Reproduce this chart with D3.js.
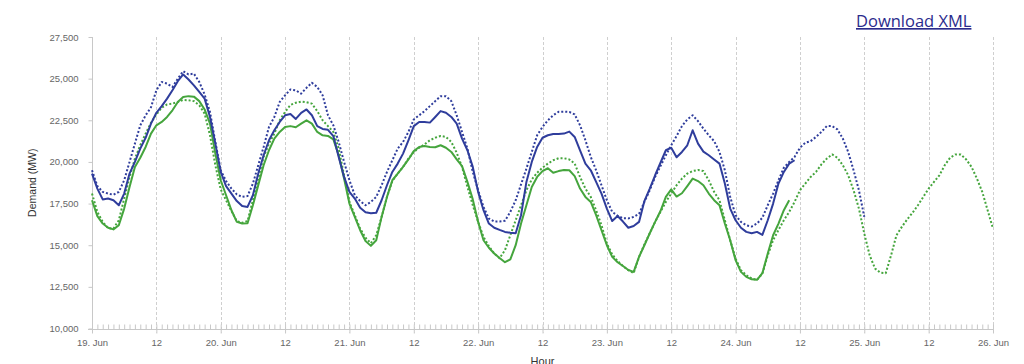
<!DOCTYPE html>
<html><head><meta charset="utf-8">
<script src="https://cdn.jsdelivr.net/npm/d3@7"></script>
<style>
html,body{margin:0;padding:0;background:#fff;overflow:hidden;}
svg{display:block;}
</style></head>
<body>
<svg id="chart" width="1024" height="364"></svg>
<script>
// ---- DATA ----
const startDay = Date.UTC(2019, 5, 19);   // 19 Jun, 00:00; one value per hour
const endDay = Date.UTC(2019, 5, 26);
const yTicks = [10000, 12500, 15000, 17500, 20000, 22500, 25000, 27500];
const seriesNames = ["Actual demand", "Forecast demand", "Actual demand (excl.)", "Forecast demand (excl.)"];

const blueSolid = [19300,18400,17750,17800,17700,17400,18100,19300,20000,20800,21450,22300,22950,23350,23800,24300,24850,25250,24950,24600,24200,23800,22700,21100,
19400,18550,18100,17650,17350,17300,18000,19300,20400,21300,21900,22400,22800,22880,22580,22950,23150,22800,22150,21980,21930,21550,20300,19100,
18200,17800,17250,16980,16920,16950,17700,18600,19400,19900,20500,21300,22150,22400,22400,22360,22700,23050,22950,22700,22300,21400,20700,19700,
18200,17100,16300,16050,15920,15800,15750,15720,16800,18800,20000,20900,21450,21600,21680,21680,21700,21820,21500,20700,19900,19500,18800,18100,
17200,16450,16750,16420,16050,16150,16400,17650,18400,19200,19950,20700,20850,20280,20600,21000,21900,21100,20620,20400,20150,19900,18700,17200,
16500,16050,15800,15720,15800,15620,16500,17500,18700,19400,19900,20100];

const blueDotted = [19500,18550,18200,18100,18030,18200,18900,20000,21100,22200,22800,23280,24300,24800,24700,24500,25000,25450,25250,25300,24800,24050,23000,21200,
19500,18850,18400,18050,17900,17950,18700,19800,20900,22100,22700,23600,24000,24350,24300,24100,24450,24750,24500,24000,22800,22200,21200,20000,
18900,18000,17650,17400,17600,17900,18600,19400,20100,20800,21200,21800,22550,22800,23050,23350,23650,23950,23950,23650,22800,21800,20800,19400,
18300,17300,16600,16420,16430,16470,17000,17700,18650,19600,20600,21600,22100,22500,22800,23010,23020,23000,22850,22200,21300,20300,19500,18600,
17700,17000,16780,16620,16610,16700,16880,17600,18300,19100,19750,20400,21000,21550,22150,22550,22800,22450,22000,21600,21250,20600,19500,17900,
16800,16400,16200,16120,16300,16650,17400,18100,18900,19650,20000,20300,20850,21150,21250,21500,21800,22150,22150,21950,21400,20600,19500,18300,
16700];

const greenSolid = [17700,16750,16300,16050,15950,16200,17200,18500,19700,20250,20900,21700,22200,22400,22700,23100,23600,23900,23950,23920,23650,23150,22300,20500,
18900,18000,17100,16400,16300,16320,17400,18600,19800,20700,21400,21800,22100,22150,22080,22300,22500,22300,21800,21600,21560,21350,20400,19000,
17500,16700,15900,15250,14960,15300,16700,17900,18900,19300,19700,20150,20650,20900,20950,20900,20880,21000,20850,20600,20150,19750,18800,17750,
16400,15300,14850,14500,14230,13980,14150,15000,16300,17400,18500,19100,19450,19620,19350,19450,19520,19500,19150,18400,17900,17600,16800,15900,
15000,14300,13980,13750,13510,13400,14300,15000,15720,16400,17050,17900,18350,17920,18120,18550,19000,18850,18600,18100,17700,17400,16300,15300,
14100,13400,13100,12950,12920,13320,14500,15600,16300,17100,17700];

const greenDotted = [18100,17000,16400,16020,16000,16500,17800,19100,20200,21000,21700,22350,22850,23250,23450,23500,23600,23720,23700,23650,23400,22900,21600,19800,
18350,17700,17050,16450,16350,16450,17700,19000,20300,21100,21700,22500,23000,23420,23550,23620,23580,23500,23050,22500,22150,21800,20800,19200,
17600,16800,16000,15450,15120,15600,16700,17900,18850,19300,19700,20200,20600,20850,21050,21300,21450,21560,21500,21200,20550,19700,18500,17400,
16400,15500,14950,14500,14220,14700,15600,16500,17400,18300,18950,19350,19650,19900,20100,20220,20220,20150,19900,19100,18400,17900,17100,16200,
15100,14450,14050,13750,13500,13330,14300,15050,15720,16400,17000,17600,18100,18600,19000,19300,19450,19520,19450,18900,18200,17700,16500,15300,
14200,13500,13200,13000,12920,13300,14400,15300,15920,16500,17000,17600,18300,18700,19100,19400,19850,20200,20450,20250,19800,19200,18300,17200,
15700,14400,13600,13350,13320,14400,15600,16100,16550,16950,17400,17900,18400,18800,19200,19800,20250,20450,20450,20150,19700,19000,18200,17100,
16000];

// ---- CHART ----
(function () {
const svg = d3.select("#chart");
const pLeft = 92, pRight = 993, pTop = 37, pBottom = 328.5;
const x = d3.scaleUtc().domain([new Date(startDay), new Date(endDay)]).range([pLeft, pRight]);
const y = d3.scaleLinear().domain([10000, 27500]).range([pBottom, pTop]);
const HOUR = 3600000;
const t = i => new Date(startDay + i * HOUR);

const labelFont = "'Liberation Sans', Arial, sans-serif";
const major = d3.range(startDay, endDay + 1, 12 * HOUR).map(v => new Date(v));
const minor = d3.range(startDay, endDay + 1, HOUR).map(v => new Date(v));
const axisY = Math.round(pBottom) + 0.5;

// vertical grid
svg.append("g").selectAll("line").data(major.slice(1)).join("line")
  .attr("x1", d => Math.round(x(d)) + 0.5).attr("x2", d => Math.round(x(d)) + 0.5)
  .attr("y1", pTop).attr("y2", pBottom + 4)
  .attr("stroke", "#cfcfcf").attr("stroke-width", 1).attr("stroke-dasharray", "3,2");

// minor hourly ticks
const gMinor = svg.append("g").attr("transform", `translate(0,${axisY})`)
  .call(d3.axisBottom(x).tickValues(minor).tickSize(-5).tickFormat(""));
gMinor.select(".domain").remove();
gMinor.selectAll("line").attr("stroke", "#c8c8c8");

// x axis
const gx = svg.append("g").attr("transform", `translate(0,${axisY})`)
  .call(d3.axisBottom(x).tickValues(major).tickSize(4).tickPadding(6)
    .tickFormat(d => d.getUTCHours() === 0 ? d3.utcFormat("%d. %b")(d) : d3.utcFormat("%H")(d)));
gx.select(".domain").attr("stroke", "#c8c8c8").attr("d", `M${pLeft - 4},0H${pRight + 1}`);
gx.selectAll(".tick line").attr("stroke", "#c8c8c8");
gx.selectAll("text").attr("fill", "#666").style("font-family", labelFont).style("font-size", "9.5px");

// y axis
const gy = svg.append("g").attr("transform", `translate(${pLeft + 0.5},0)`)
  .call(d3.axisLeft(y).tickValues(yTicks).tickSize(4).tickPadding(10).tickFormat(d3.format(",")));
gy.select(".domain").attr("stroke", "#c8c8c8").attr("d", `M0,${pTop}V${pBottom}`);
gy.selectAll(".tick line").attr("stroke", "#c8c8c8");
gy.selectAll("text").attr("fill", "#666").style("font-family", labelFont).style("font-size", "9.5px");

// axis titles
svg.append("text").attr("transform", `translate(36,${(pTop + pBottom) / 2}) rotate(-90)`)
  .attr("text-anchor", "middle").attr("fill", "#333")
  .style("font-family", labelFont).style("font-size", "10.5px").text("Demand (MW)");
svg.append("text").attr("x", (pLeft + pRight) / 2).attr("y", 365)
  .attr("text-anchor", "middle").attr("fill", "#333")
  .style("font-family", labelFont).style("font-size", "11px").text("Hour");

// lines
const line = d3.line().x((d, i) => x(t(i))).y(d => y(d));
const blue = "#2f3d9c", green = "#45a53d";
const series = [
  {name: seriesNames[3], data: greenDotted, color: green, dash: "2,2"},
  {name: seriesNames[2], data: greenSolid, color: green, dash: null},
  {name: seriesNames[1], data: blueDotted, color: blue, dash: "2,2"},
  {name: seriesNames[0], data: blueSolid, color: blue, dash: null}
];
svg.append("g").selectAll("path").data(series).join("path")
  .attr("d", d => line(d.data))
  .attr("fill", "none").attr("stroke", d => d.color).attr("stroke-width", 2)
  .attr("stroke-linejoin", "round")
  .attr("stroke-dasharray", d => d.dash);

// download link
svg.append("text").attr("x", 856).attr("y", 27)
  .attr("fill", "#2b2b8c").style("font-family", "'Open Sans', sans-serif").style("font-size", "16.5px")
  .style("text-decoration", "underline").text("Download XML");
})();
</script>
</body></html>
